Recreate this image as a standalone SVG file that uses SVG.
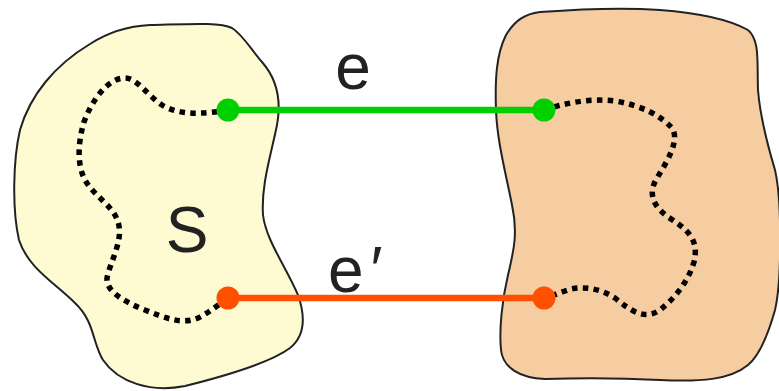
<svg xmlns="http://www.w3.org/2000/svg" width="779" height="391" viewBox="0 0 779 391">
<style>
.blob{stroke:#222;stroke-width:2;stroke-linejoin:round}
.dots{fill:none;stroke:#000;stroke-width:5.5;stroke-dasharray:5.5 5.3}
.lbl{font-family:"Liberation Sans",Arial,sans-serif;font-size:64px;fill:#222}
.edge{stroke-width:6.5;fill:none}
</style>
<rect width="779" height="391" fill="#fff"/>
<g id="left-region">
<path class="blob" fill="#FEFBD3" d="M150,25 C190,24 220,22 232,28 C242,34 250,48 262,62 C276,78 282,98 277,125 C271,155 261,185 263,215 C266,240 285,265 298,295 C305,315 306,335 290,348 C270,363 225,376 185,386 C150,393 118,382 103,360 C92,342 95,322 75,303 C55,283 28,268 19,240 C12,210 13,160 20,130 C30,95 55,65 90,44 C110,31 130,26 150,25 Z"/>
<path class="dots" d="M228,110 C205,114 180,116 162,105 C147,95 137,78 125,78 C108,78 92,100 84,122 C78,142 77,163 84,178 C93,196 113,205 118,222 C124,240 110,262 107,278 C106,292 125,302 145,310 C165,318 182,325 198,318 C210,312 218,305 228,298"/>
<text class="lbl" x="187" y="252" text-anchor="middle">S</text>
</g>
<g id="right-region">
<path class="blob" fill="#F6CDA1" d="M540,12 C580,9 620,7 660,10 C700,13 730,20 748,30 C760,40 757,62 758,90 C760,115 766,140 775,170 C782,200 782,280 775,310 C768,335 760,355 748,365 C730,380 700,382 660,380 C620,378 580,378 545,379 C520,378 503,368 501,350 C499,330 502,300 508,275 C514,250 518,232 512,205 C505,170 497,140 496,110 C495,80 496,55 506,35 C515,20 525,14 540,12 Z"/>
<path class="dots" d="M544,110 C565,103 590,98 615,101 C640,105 660,115 672,128 C680,140 668,160 657,178 C648,193 652,205 668,217 C685,228 700,238 694,262 C688,282 675,298 660,310 C645,320 632,312 615,298 C600,288 580,285 565,291 C556,294 550,297 544,298"/>
</g>
<g id="connectors">
<line class="edge" x1="228" y1="110" x2="544" y2="110" stroke="#00D000"/>
<circle cx="228" cy="110" r="11.5" fill="#00D000"/>
<circle cx="544" cy="110" r="11.5" fill="#00D000"/>
<line class="edge" x1="228" y1="298" x2="544" y2="298" stroke="#FF5000"/>
<circle cx="228" cy="298" r="11.5" fill="#FF5000"/>
<circle cx="544" cy="298" r="11.5" fill="#FF5000"/>
<text class="lbl" x="353" y="89" text-anchor="middle">e</text>
<text class="lbl" x="328" y="292">e<tspan dx="4" font-style="italic">′</tspan></text>
</g>
</svg>
